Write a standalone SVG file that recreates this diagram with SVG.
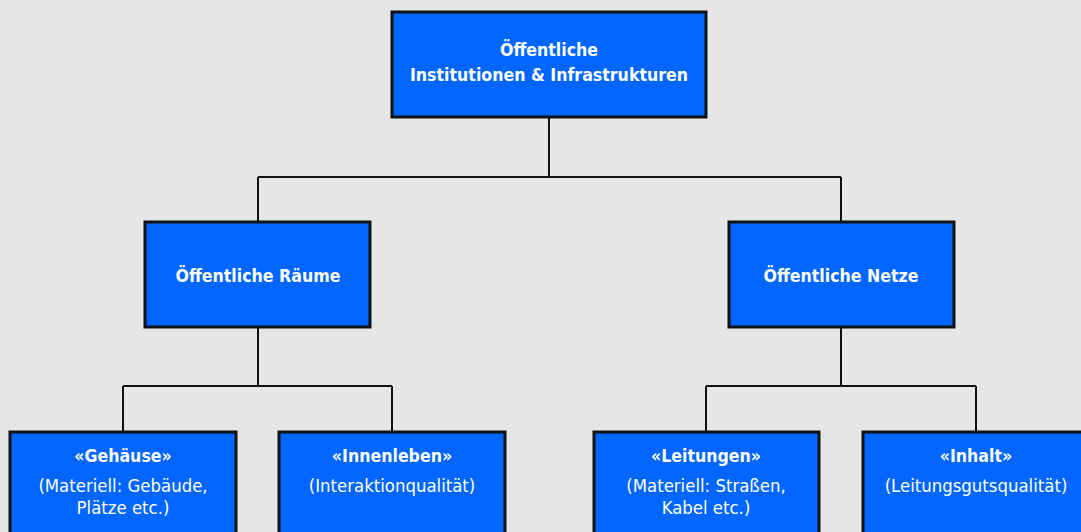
<svg xmlns="http://www.w3.org/2000/svg" width="1081" height="532" viewBox="0 0 1081 532">
<style>
.box{fill:#0066ff;stroke:#111;stroke-width:3}
.t{fill:#fff;font-family:"DejaVu Sans Condensed","DejaVu Sans",sans-serif;font-stretch:condensed;text-anchor:middle;font-size:18px}
.b{font-weight:bold;font-size:17.6px}
.r{font-size:18.4px}
.con{fill:none;stroke:#111;stroke-width:2}
</style>
<rect width="1081" height="532" fill="#e6e6e6"/>
<g id="connectors">
<path class="con" d="M549 117V177M258 177H841M258 177V221M841 177V221"/>
<path class="con" d="M258 327V386M123 386H392M123 386V431M392 386V431"/>
<path class="con" d="M841 327V386M706 386H976M706 386V431M976 386V431"/>
</g>
<g id="root">
<rect class="box" x="392" y="12" width="314" height="105"/>
<text class="t b" x="549" y="56">Öffentliche</text>
<text class="t b" x="549" y="81">Institutionen &amp; Infrastrukturen</text>
</g>
<g id="raeume">
<rect class="box" x="145" y="222" width="225" height="105"/>
<text class="t b" x="258" y="282">Öffentliche Räume</text>
</g>
<g id="netze">
<rect class="box" x="729" y="222" width="225" height="105"/>
<text class="t b" x="841" y="282">Öffentliche Netze</text>
</g>
<g id="gehaeuse">
<rect class="box" x="10" y="432" width="226" height="110"/>
<text class="t b" x="123" y="462">«Gehäuse»</text>
<text class="t r" x="123" y="492">(Materiell: Gebäude,</text>
<text class="t r" x="123" y="514">Plätze etc.)</text>
</g>
<g id="innenleben">
<rect class="box" x="279" y="432" width="226" height="110"/>
<text class="t b" x="392" y="462">«Innenleben»</text>
<text class="t r" x="392" y="492">(Interaktionqualität)</text>
</g>
<g id="leitungen">
<rect class="box" x="594" y="432" width="225" height="110"/>
<text class="t b" x="706" y="462">«Leitungen»</text>
<text class="t r" x="706" y="492">(Materiell: Straßen,</text>
<text class="t r" x="706" y="514">Kabel etc.)</text>
</g>
<g id="inhalt">
<rect class="box" x="863" y="432" width="226" height="110"/>
<text class="t b" x="976" y="462">«Inhalt»</text>
<text class="t r" x="976" y="492">(Leitungsgutsqualität)</text>
</g>
</svg>
